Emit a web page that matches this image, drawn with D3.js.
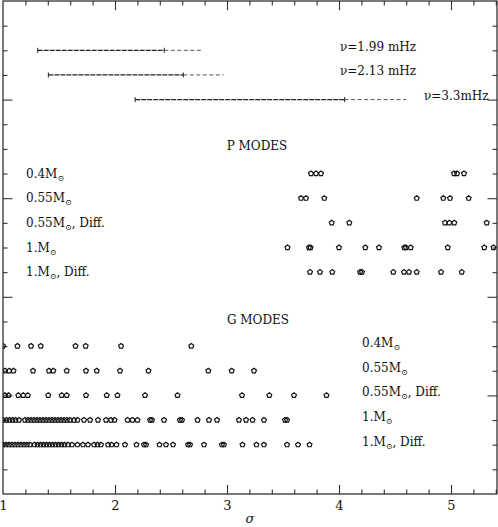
<!DOCTYPE html>
<html>
<head>
<meta charset="utf-8">
<script src="https://cdn.jsdelivr.net/npm/d3@7"></script>
<style>
  body { margin: 0; background: #fff; }
  svg { display: block; }
  text { font-family: "DejaVu Serif", serif; fill: #111; }
</style>
</head>
<body>
<div id="chart"></div>
<script>
// sigma values, one array per row

// frequency bars (row, solid part, dashed extension)
const freqLabels = ["ν=1.99 mHz", "ν=2.13 mHz", "ν=3.3mHz"];
const barRow = [18, 17, 16];
const barStart = [1.31, 1.405, 2.18];
const barEnd = [2.44, 2.61, 4.05];
const barExt = [2.77, 2.97, 4.60];

// row labels
const rowMass = ["0.4", "0.55", "0.55", "1.", "1."];
const rowDiff = [false, false, true, false, true];
const pRows = [13, 12, 11, 10, 9];
const gRows = [6, 5, 4, 3, 2];

// P modes
const p04 = [3.750, 3.795, 3.839, 5.027, 5.054, 5.116];
const p055 = [3.661, 3.705, 3.869, 4.694, 4.931, 4.991, 5.158];
const p055Diff = [3.935, 4.092, 4.946, 4.985, 5.029, 5.319];
const p1 = [3.540, 3.732, 3.746, 4.000, 4.235, 4.357, 4.583, 4.598, 4.640, 4.971, 5.297, 5.379];
const p1Diff = [3.741, 3.830, 3.940, 4.188, 4.205, 4.485, 4.580, 4.625, 4.694, 4.911, 5.096];

// G modes
const g04 = [1.000, 1.129, 1.250, 1.337, 1.647, 1.738, 2.054, 2.681];
const g055 = [1.018, 1.056, 1.094, 1.268, 1.411, 1.449, 1.569, 1.741, 1.837, 2.045, 2.299, 2.833, 3.042, 3.241];
const g055Diff = [1.018, 1.049, 1.137, 1.181, 1.221, 1.404, 1.524, 1.569, 1.741, 1.926, 2.022, 2.268, 2.558, 3.134, 3.378, 3.598, 3.888];
const g1 = [1.000, 1.031, 1.058, 1.085, 1.112, 1.143, 1.196, 1.223, 1.250, 1.277, 1.304, 1.330, 1.357, 1.384,
  1.411, 1.438, 1.464, 1.491, 1.518, 1.545, 1.571, 1.598, 1.634, 1.665, 1.723, 1.777, 1.848, 1.920, 1.964,
  1.996, 2.112, 2.156, 2.201, 2.313, 2.330, 2.438, 2.580, 2.598, 2.737, 2.839, 2.911, 3.107, 3.170, 3.228,
  3.330, 3.518, 3.536];
const g1Diff = [1.000, 1.027, 1.054, 1.080, 1.107, 1.134, 1.161, 1.188, 1.214, 1.241, 1.281, 1.308, 1.335,
  1.362, 1.388, 1.415, 1.442, 1.469, 1.496, 1.522, 1.549, 1.580, 1.616, 1.665, 1.714, 1.759, 1.813, 1.844,
  1.875, 1.938, 1.969, 2.013, 2.089, 2.192, 2.259, 2.277, 2.397, 2.455, 2.518, 2.652, 2.670, 2.795, 2.955,
  2.973, 3.138, 3.263, 3.330, 3.536, 3.634, 3.737];

const pSeries = [p04, p055, p055Diff, p1, p1Diff];
const gSeries = [g04, g055, g055Diff, g1, g1Diff];

const width = 498, height = 527;
const plotL = 3, plotR = 497, plotT = 1, plotB = 494;

const svg = d3.select("#chart").append("svg")
  .attr("width", width)
  .attr("height", height);

const x = d3.scaleLinear().domain([1, 1 + 494 / 112]).range([plotL, plotR]);
const y = d3.scaleLinear().domain([0, 20]).range([plotB, plotT]);

// ticks
const xMinor = d3.range(1.2, 5.41, 0.2).filter(v => Math.abs(v - Math.round(v)) > 0.01);
const xMajor = [2, 3, 4, 5];
const yMinor = d3.range(1, 20).filter(v => v % 4 !== 0);
const yMajor = [4, 8, 12, 16];

function tickAxis(axis, vals, size, tx, ty) {
  const g = svg.append("g")
    .attr("transform", `translate(${tx},${ty})`)
    .call(axis.tickValues(vals).tickSize(size).tickFormat(""));
  g.select(".domain").remove();
  g.selectAll("line").attr("stroke", "#333").attr("stroke-width", 1.1);
}
tickAxis(d3.axisTop(x), xMinor, 4.5, 0, plotB);
tickAxis(d3.axisTop(x), xMajor, 9, 0, plotB);
tickAxis(d3.axisBottom(x), xMinor, 4.5, 0, plotT);
tickAxis(d3.axisBottom(x), xMajor, 9, 0, plotT);
tickAxis(d3.axisRight(y), yMinor, 4.5, plotL, 0);
tickAxis(d3.axisRight(y), yMajor, 9.5, plotL, 0);
tickAxis(d3.axisLeft(y), yMinor, 4.5, plotR, 0);
tickAxis(d3.axisLeft(y), yMajor, 9.5, plotR, 0);

// frame
svg.append("rect")
  .attr("x", plotL).attr("y", plotT)
  .attr("width", plotR - plotL).attr("height", plotB - plotT)
  .attr("fill", "none").attr("stroke", "#222").attr("stroke-width", 1.2);

// bottom labels
const xl = svg.append("g")
  .attr("transform", `translate(0,${plotB})`)
  .call(d3.axisBottom(x).tickValues([1, 2, 3, 4, 5]).tickSize(0).tickPadding(7).tickFormat(d3.format("d")));
xl.select(".domain").remove();
xl.selectAll("text").style("font-family", "'DejaVu Serif', serif").style("font-size", "13px").attr("fill", "#111");

svg.append("text")
  .attr("x", (plotL + plotR) / 2)
  .attr("y", 523)
  .attr("text-anchor", "middle")
  .style("font-size", "13px")
  .style("font-style", "italic")
  .text("σ");

// frequency bars
freqLabels.forEach((lab, i) => {
  const yy = y(barRow[i]);
  svg.append("line")
    .attr("x1", x(barEnd[i])).attr("x2", x(barExt[i]))
    .attr("y1", yy).attr("y2", yy)
    .attr("stroke", "#555").attr("stroke-width", 1)
    .attr("stroke-dasharray", "4,2.5");
  svg.append("line")
    .attr("x1", x(barStart[i])).attr("x2", x(barEnd[i]))
    .attr("y1", yy).attr("y2", yy)
    .attr("stroke", "#222").attr("stroke-width", 1.2)
    .attr("stroke-dasharray", "5,1");
  [barStart[i], barEnd[i]].forEach(v => {
    svg.append("line")
      .attr("x1", x(v)).attr("x2", x(v))
      .attr("y1", yy - 2.5).attr("y2", yy + 2.5)
      .attr("stroke", "#222").attr("stroke-width", 1);
  });
});
const freqX = [340, 340, 424];
freqLabels.forEach((lab, i) => {
  svg.append("text")
    .attr("x", freqX[i])
    .attr("y", y(barRow[i]) + 0.5)
    .style("font-size", "12px")
    .text(lab);
});

// section titles
svg.append("text").attr("x", 257).attr("y", y(14) + 1)
  .attr("text-anchor", "middle").style("font-size", "12px").text("P MODES");
svg.append("text").attr("x", 258).attr("y", y(7) + 3)
  .attr("text-anchor", "middle").style("font-size", "12px").text("G MODES");

function rowLabel(xx, yy, i) {
  const t = svg.append("text").attr("x", xx).attr("y", yy).style("font-size", "12px");
  t.append("tspan").text(rowMass[i] + "M");
  t.append("tspan").attr("dy", 3).style("font-size", "8px").text("⊙");
  if (rowDiff[i]) t.append("tspan").attr("dy", -3).text(", Diff.");
}
pRows.forEach((r, i) => rowLabel(26, y(r) + 4, i));
gRows.forEach((r, i) => rowLabel(362, y(r) + 1, i));

// pentagon markers
const pentagon = {
  draw(ctx, size) {
    const r = Math.sqrt(size);
    for (let k = 0; k < 5; k++) {
      const a = -Math.PI / 2 + k * 2 * Math.PI / 5;
      const px = r * Math.cos(a), py = r * Math.sin(a);
      if (k === 0) ctx.moveTo(px, py); else ctx.lineTo(px, py);
    }
    ctx.closePath();
  }
};
const sym = d3.symbol().type(pentagon).size(6.5);

const pts = [];
pSeries.forEach((s, i) => s.forEach(v => pts.push({ s: v, r: pRows[i] })));
gSeries.forEach((s, i) => s.forEach(v => pts.push({ s: v, r: gRows[i] })));

svg.append("defs").append("clipPath").attr("id", "plotclip")
  .append("rect").attr("x", plotL).attr("y", plotT)
  .attr("width", plotR - plotL).attr("height", plotB - plotT);

svg.append("g").attr("clip-path", "url(#plotclip)")
  .selectAll("path")
  .data(pts)
  .join("path")
  .attr("transform", d => `translate(${x(d.s)},${y(d.r)})`)
  .attr("d", sym)
  .attr("fill", "none")
  .attr("stroke", "#111")
  .attr("stroke-width", 1.2);
</script>
</body>
</html>
